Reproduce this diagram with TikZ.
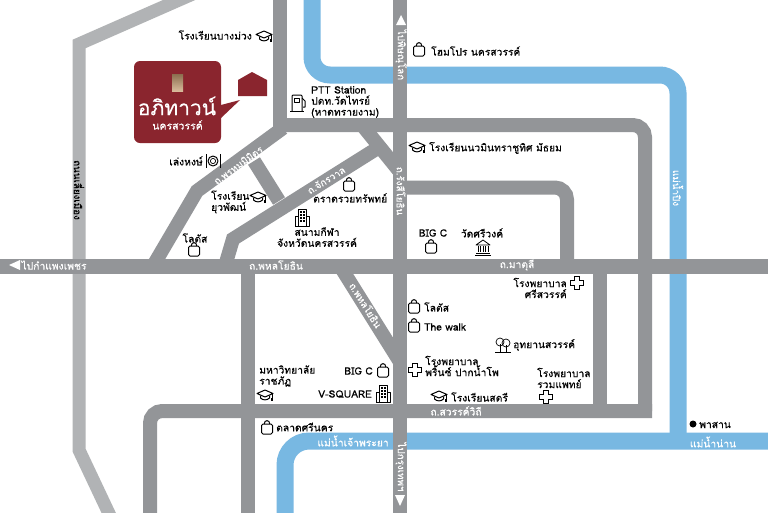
\documentclass[tikz,border=0pt]{standalone}
\usepackage{fontspec}
\setmainfont[Script=Thai,RawFeature={embolden=0.25}]{Loma}
\usepackage{tikz}
\usetikzlibrary{positioning}
\definecolor{RoadGray}{HTML}{939598}
\definecolor{BypassGray}{HTML}{B1B3B5}
\definecolor{RiverBlue}{HTML}{78B8E2}
\definecolor{BrandRed}{HTML}{8A252E}
\definecolor{BrandGold}{HTML}{C79C70}
\begin{document}
\begin{tikzpicture}[x=1pt, y=-1pt,
road/.style = {line width=14pt, draw=RoadGray},
bypass/.style = {line width=13pt, draw=BypassGray},
river/.style = {line width=17pt, draw=RiverBlue},
place/.style = {font=\fontsize{10.3}{11}\selectfont, text=black, inner sep=0pt, align=left},
placeR/.style = {place, align=right},
placeC/.style = {place, align=center},
roadname/.style = {font=\fontsize{10.3}{11}\selectfont, text=white, inner sep=0pt},
roadside/.style = {roadname, font=\fontsize{9.8}{11}\selectfont},
icon/.style = {line width=1pt, draw=black, line join=round},
bagicon/.pic = {
  \draw[icon, rounded corners=1.5pt] (-5.5,-4) rectangle (5.5,6);
  \draw[icon] (-2.8,-4) .. controls (-2.8,-8.5) and (2.8,-8.5) .. (2.8,-4);},
capicon/.pic = {
  \draw[icon] (-8,-1.5) -- (0,-5) -- (8,-1.5) -- (0,2) -- cycle;
  \draw[icon] (-4.5,0.5) -- (-4.5,3) .. controls (-2,5.5) and (2,5.5) .. (4.5,3) -- (4.5,0.5);
  \draw[icon] (7,-1) -- (7,3);
  \fill (5.8,3) rectangle (8.2,6);},
crossicon/.pic = {
  \draw[line width=.9pt, draw=black] (-2.5,-6.5) -- (2.5,-6.5) -- (2.5,-2.5) -- (6.5,-2.5) -- (6.5,2.5) -- (2.5,2.5) -- (2.5,6.5) -- (-2.5,6.5) -- (-2.5,2.5) -- (-6.5,2.5) -- (-6.5,-2.5) -- (-2.5,-2.5) -- cycle;},
towericon/.pic = {
  \draw[icon, line width=.7pt] (-4,-8) rectangle (4,9);
  \draw[icon, line width=.7pt] (-7,9) -- (-7,-1) -- (-4,-1);
  \draw[icon, line width=.7pt] (4,-1) -- (7,-1) -- (7,9) -- (-7,9);
  \foreach \wy in {-6,-3,0,3} {
    \foreach \wx in {-2,1} {
      \fill (\wx,\wy) rectangle +(1.6,1.8);
    }
  }},
dishicon/.pic = {
  \draw[icon] (0,0) circle (5);
  \draw[icon, line width=.7pt] (0,0) circle (2.6);
  \draw[icon] (-7,-7) -- (-7,7);
  \draw[icon] (7,-7) -- (7,7);},
pumpicon/.pic = {
  \draw[icon, rounded corners=1pt] (-6,8) -- (-6,-8) -- (4,-8) -- (4,8);
  \draw[icon] (-8,8) -- (6,8);
  \draw[icon] (-3.5,-5) rectangle (1.5,-1);
  \draw[icon] (4,-5) -- (7,-2) -- (7,4) -- (5,4);},
treeicon/.pic = {
  \draw[icon, line width=.7pt] (-3,-3) circle (4);
  \draw[icon, line width=.7pt] (3,-2) circle (4);
  \draw[icon, line width=.7pt] (-3,-1) -- (-3,7);
  \draw[icon, line width=.7pt] (3,0) -- (3,7);
  \draw[icon, line width=.7pt] (-8,7) -- (8,7);},
templeicon/.pic = {
  \draw[icon, line width=.8pt] (-7,-2) -- (0,-7) -- (7,-2) -- cycle;
  \foreach \cx in {-5,-2.5,0,2.5,5} {
    \draw[icon, line width=.9pt] (\cx,-1) -- (\cx,5);
  }
  \draw[icon] (-7,6) -- (7,6);
  \draw[icon] (-8,8) -- (8,8);}]
\useasboundingbox (0,0) rectangle (768,512);
\fill[white] (0,0) rectangle (768,512);

% rivers
\draw[river, rounded corners=18pt] (312,-10) -- (312,75) -- (678,75) -- (678,441);
\draw[river, rounded corners=24pt] (778,441) -- (285,441) -- (285,522);

% bypass
\draw[bypass] (195,-7) -- (79,44) -- (79,450) -- (113,522);

% roads
\draw[road] (280,-5) -- (280,132);
\draw[road, rounded corners=12pt] (280,125) -- (645,125) -- (645,411);
\draw[road, rounded corners=12pt] (652,411) -- (150,411) -- (150,522);
\draw[road] (400,-5) -- (400,522);
\draw[road, line width=15pt] (-5,266) -- (773,266);
\draw[road] (248,266) -- (248,522);
\draw[road] (600,266) -- (600,411);
\draw[road, rounded corners=12pt] (400,187.5) -- (567,187.5) -- (567,266);
\draw[road] (283,128) -- (197,191) -- (153,266);
\draw[road] (254,161) -- (279,201);
\draw[road] (381,146) -- (233,239) -- (225,266);
\draw[road] (362,125) -- (400,172);
\draw[road] (340,266) -- (400,362);

% logo
\fill[BrandRed, rounded corners=6pt] (134,61) rectangle (221,143);
\fill[BrandRed] (221,105) -- (240,100) -- (221,118) -- cycle;
\fill[BrandRed] (238,80) -- (252,72) -- (267,80) -- (267,96) -- (238,96) -- cycle;
\shade[top color=BrandGold!70!black, bottom color=BrandGold!70!white] (172,74) rectangle (183,91);
\node[font=\fontsize{21}{22}\selectfont, text=white, inner sep=0pt] (brand) at (177,106) {อภิทาวน์};
\node[font=\fontsize{10.5}{12}\selectfont, text=white, inner sep=0pt] (brandcity) at (177.5,125) {นครสวรรค์};

% road names
\node[roadname] (phahon) at (276,265) {ถ.พหลโยธิน};
\node[roadname] (matuli) at (517,265) {ถ.มาตุลี};
\node[roadname] (sawan) at (456,411) {ถ.สวรรค์วิถี};
\node[roadside, rotate=-90] (rangsi) at (401,191) {ถ.รังสีโยธิน};
\node[roadside, rotate=-58] (phahontwo) at (366,305) {ถ.พหลโยธิน};
\node[roadside, rotate=36] (phrom) at (238,165) {ถ.พรหมมิมิตร};
\node[roadside, rotate=32] (chak) at (326,180) {ถ.จักรวาล};
\node[roadname] (kamphaeng) at (54,265) {ไปกำแพงเพชร};
\node[roadside, rotate=-90] (phitsanu) at (401,55) {ไปพิษณุโลก};
\node[roadside, rotate=-90] (krungthep) at (401,467) {ไปกรุงเทพฯ};
\node[roadside, rotate=-90, text=black] (bypassname) at (79,190) {ถนนเลี่ยงเมือง};
\node[roadside, rotate=-90] (ping) at (678,188) {แม่น้ำปิง};
\node[roadname] (chaophraya) at (353,441) {แม่น้ำเจ้าพระยา};
\node[roadname] (nan) at (713,442) {แม่น้ำน่าน};
\fill[white] (9,265) -- (20,260) -- (20,270) -- cycle;
\fill[white] (401,15) -- (396,25) -- (406,25) -- cycle;
\fill[white] (400,506) -- (395,495) -- (405,495) -- cycle;

% icons
\pic at (264,36) {capicon};
\pic at (213,161) {dishicon};
\pic at (298,103) {pumpicon};
\pic at (258,197) {capicon};
\pic at (349,185) {bagicon};
\pic at (302,217) {towericon};
\pic at (194,250) {bagicon};
\pic at (419,50) {bagicon};
\pic at (417,147) {capicon};
\pic at (431,247) {bagicon};
\pic at (483,247) {templeicon};
\pic at (577,283) {crossicon};
\pic at (414,307) {bagicon};
\pic at (414,326) {bagicon};
\pic at (503,345) {treeicon};
\pic at (415,370) {crossicon};
\pic at (546,397) {crossicon};
\pic at (439,396) {capicon};
\pic at (383,371) {bagicon};
\pic at (383,393) {towericon};
\pic at (265,395) {capicon};
\pic at (267,428) {bagicon};
\fill (693,424) circle (3.5);

% places
\node[placeR, anchor=east] (bangmuang) at (252,35) {โรงเรียนบางม่วง};
\node[place, anchor=west] (ptt) at (311,102) {PTT Station\\ปตท.วัดไทรย์\\(หาดทรายงาม)};
\node[placeR, anchor=east] (lenghong) at (203,161) {เล่งหงษ์};
\node[place, anchor=west] (yuwa) at (211,202) {โรงเรียน\\ยุวพัฒน์};
\node[place, anchor=west] (talat) at (313,198) {ตราดรวยทรัพทย์};
\node[placeC] (stadium) at (317,237) {สนามกีฬา\\จังหวัดนครสวรรค์};
\node[placeC] (lotusone) at (195,238) {โลตัส};
\node[place, anchor=west] (homepro) at (431,51) {โฮมโปร นครสวรรค์};
\node[place, anchor=west] (nawamin) at (429,148) {โรงเรียนนวมินทราชูทิศ มัธยม};
\node[placeC] (bigcone) at (433,233) {BIG C};
\node[placeC] (wat) at (482,233) {วัดศรีวงค์};
\node[placeR, anchor=east] (sri) at (567,288) {โรงพยาบาล\\ศรีสวรรค์};
\node[place, anchor=west] (lotustwo) at (424,307) {โลตัส};
\node[place, anchor=west] (walk) at (424,327) {The walk};
\node[place, anchor=west] (park) at (513,345) {อุทยานสวรรค์};
\node[place, anchor=west] (prince) at (425,366) {โรงพยาบาล\\พริ้นซ์ ปากน้ำโพ};
\node[place, anchor=west] (ruam) at (537,378) {โรงพยาบาล\\รวมแพทย์};
\node[place, anchor=west] (satri) at (451,397) {โรงเรียนสตรี};
\node[place, anchor=west] (rajabhat) at (259,376) {มหาวิทยาลัย\\ราชภัฏ};
\node[placeR, anchor=east] (bigctwo) at (373,371) {BIG C};
\node[placeR, anchor=east] (vsquare) at (372,394) {V-SQUARE};
\node[place, anchor=west] (srinakhon) at (276,427) {ตลาดศรีนคร};
\node[place, anchor=west] (phasan) at (699,425) {พาสาน};
\end{tikzpicture}
\end{document}
